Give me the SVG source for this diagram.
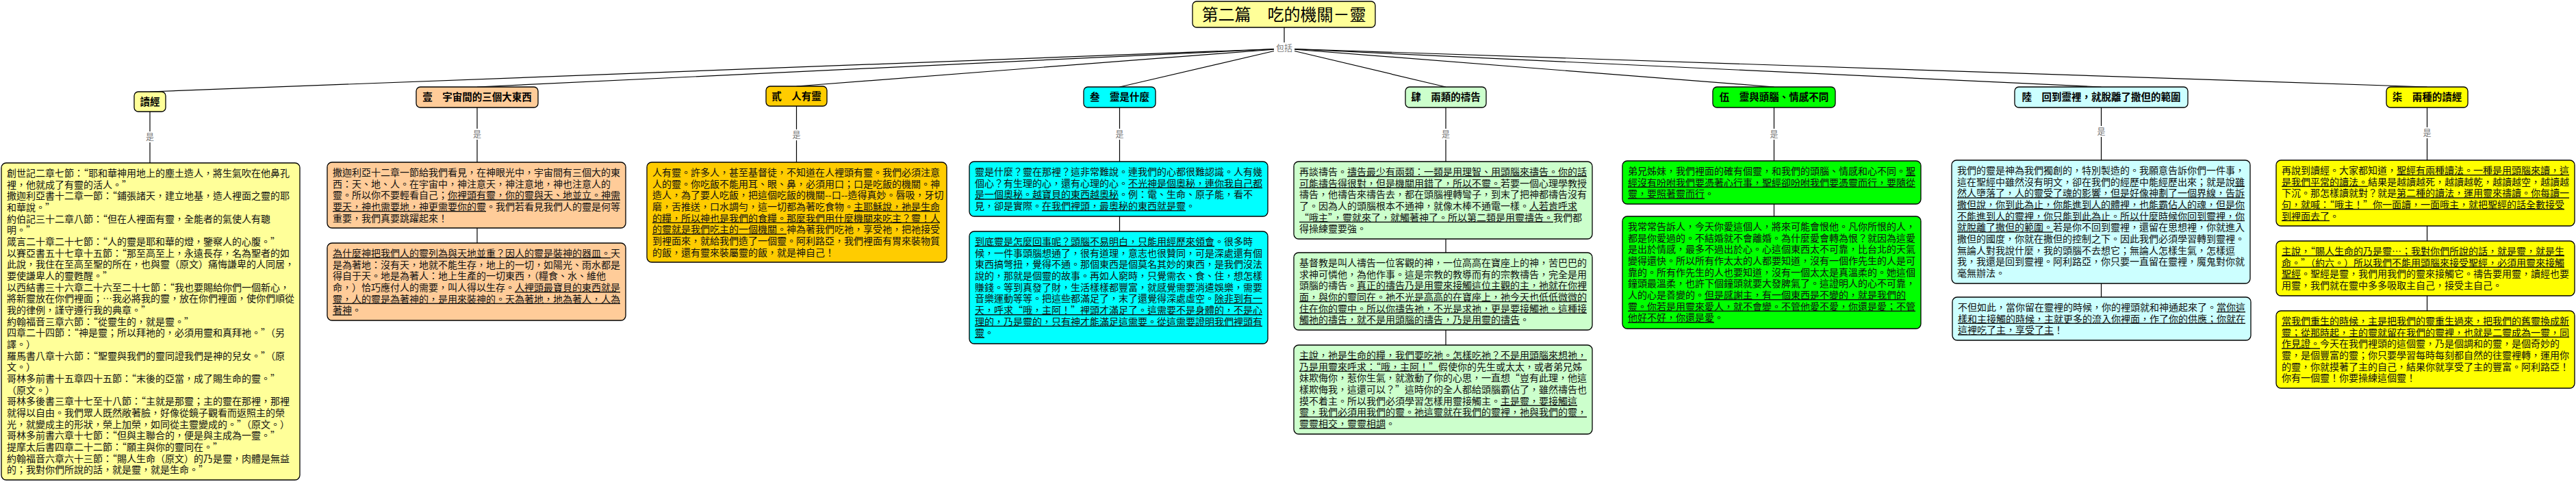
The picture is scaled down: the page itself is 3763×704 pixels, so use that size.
<svg xmlns="http://www.w3.org/2000/svg" width="3763" height="704" viewBox="0 0 3763 704">
<style>
.bg{fill:#ffffff}
.box{stroke:#000;stroke-width:1.3}
.c1{fill:#FFFF99}.c2{fill:#FFCC99}.c3{fill:#FFCC00}.c4{fill:#00FFFF}.c5{fill:#CCFFCC}.c6{fill:#00FF00}.c7{fill:#CCFFFF}.c8{fill:#FFFF00}
.nt{font-family:"Noto Sans CJK TC","Noto Sans CJK SC",sans-serif;font-size:14.5px;font-weight:bold;text-anchor:middle;fill:#000}
.tt{font-family:"Noto Sans CJK TC","Noto Sans CJK SC",sans-serif;font-size:24px;text-anchor:middle;fill:#000}
.t{font-family:"Noto Sans CJK TC","Noto Sans CJK SC",sans-serif;font-size:14px;fill:#111;font-feature-settings:"fwid"}
.nf{font-feature-settings:normal}
.u{text-decoration:underline}
.lbl{font-family:"Noto Sans CJK TC","Noto Sans CJK SC",sans-serif;font-size:12px;fill:#777;text-anchor:middle}
.conn line{stroke:#000;stroke-width:1.2}
.lb{fill:#fff}
</style>
<rect class="bg" x="0" y="0" width="3763" height="704"/>

<g id="connectors" class="conn">
  <line x1="1876" y1="40" x2="1876" y2="71"/>
  <line x1="1876" y1="71" x2="219" y2="134"/>
  <line x1="1876" y1="71" x2="697" y2="127"/>
  <line x1="1876" y1="71" x2="1163.5" y2="126"/>
  <line x1="1876" y1="71" x2="1635.5" y2="127"/>
  <line x1="1876" y1="71" x2="2112" y2="127"/>
  <line x1="1876" y1="71" x2="2591.5" y2="127"/>
  <line x1="1876" y1="71" x2="3069.5" y2="127"/>
  <line x1="1876" y1="71" x2="3545.5" y2="127"/>
  <line x1="219" y1="163" x2="219" y2="238"/>
  <line x1="697" y1="157" x2="697" y2="237"/>
  <line x1="697" y1="333" x2="697" y2="355"/>
  <line x1="1163.5" y1="155" x2="1163.5" y2="237"/>
  <line x1="1635.5" y1="157" x2="1635.5" y2="236"/>
  <line x1="1635.5" y1="316" x2="1635.5" y2="338"/>
  <line x1="2112" y1="157" x2="2112" y2="236"/>
  <line x1="2112" y1="349" x2="2112" y2="369"/>
  <line x1="2112" y1="482" x2="2112" y2="504"/>
  <line x1="2591.5" y1="157" x2="2591.5" y2="235"/>
  <line x1="2591.5" y1="298" x2="2591.5" y2="316"/>
  <line x1="3069.5" y1="157" x2="3069.5" y2="234"/>
  <line x1="3069.5" y1="414" x2="3069.5" y2="434"/>
  <line x1="3545.5" y1="157" x2="3545.5" y2="234"/>
  <line x1="3545.5" y1="330" x2="3545.5" y2="352"/>
  <line x1="3545.5" y1="432" x2="3545.5" y2="454"/>
  <rect class="lb" x="1861" y="62" width="30" height="17"/>
  <text class="lbl" x="1876" y="75">包括</text>
  <rect class="lb" x="212" y="192" width="14" height="16"/>
  <text class="lbl" x="219" y="205">是</text>
  <rect class="lb" x="690" y="188" width="14" height="16"/>
  <text class="lbl" x="697" y="201">是</text>
  <rect class="lb" x="1156.5" y="189" width="14" height="16"/>
  <text class="lbl" x="1163.5" y="202">是</text>
  <rect class="lb" x="1628.5" y="188" width="14" height="16"/>
  <text class="lbl" x="1635.5" y="201">是</text>
  <rect class="lb" x="2105" y="188" width="14" height="16"/>
  <text class="lbl" x="2112" y="201">是</text>
  <rect class="lb" x="2584.5" y="188" width="14" height="16"/>
  <text class="lbl" x="2591.5" y="201">是</text>
  <rect class="lb" x="3062.5" y="184" width="14" height="16"/>
  <text class="lbl" x="3069.5" y="197">是</text>
  <rect class="lb" x="3538.5" y="186" width="14" height="16"/>
  <text class="lbl" x="3545.5" y="199">是</text>
</g>

<g id="title">
  <rect class="box c1" x="1742" y="2" width="267" height="38" rx="6"/>
  <text class="tt" x="1875.5" y="29.5">第二篇　吃的機關－靈</text>
</g>

<g id="node-dujing">
  <rect class="box c1" x="196" y="134" width="46" height="29" rx="6"/>
  <text class="nt" x="219" y="153.5">讀經</text>
</g>
<g id="node-dujing-text">
  <rect class="box c1" x="2" y="238" width="436" height="463" rx="7"/>
  <text class="t" x="10" y="258">
    <tspan x="10" dy="0">創世記二章七節：“耶和華神用地上的塵土造人，將生氣吹在他鼻孔</tspan>
    <tspan x="10" dy="16.67">裡，他就成了有靈的活人。”</tspan>
    <tspan x="10" dy="16.67">撒迦利亞書十二章一節：“鋪張諸天，建立地基，造人裡面之靈的耶</tspan>
    <tspan x="10" dy="16.67">和華說。”</tspan>
    <tspan x="10" dy="16.67">約伯記三十二章八節：“但在人裡面有靈，全能者的氣使人有聰</tspan>
    <tspan x="10" dy="16.67">明。”</tspan>
    <tspan x="10" dy="16.67">箴言二十章二十七節：“人的靈是耶和華的燈，鑒察人的心腹。”</tspan>
    <tspan x="10" dy="16.67">以賽亞書五十七章十五節：“那至高至上，永遠長存，名為聖者的如</tspan>
    <tspan x="10" dy="16.67">此說，我住在至高至聖的所在，也與靈（原文）痛悔謙卑的人同居，</tspan>
    <tspan x="10" dy="16.67">要使謙卑人的靈甦醒。”</tspan>
    <tspan x="10" dy="16.67">以西結書三十六章二十六至二十七節：“我也要賜給你們一個新心，</tspan>
    <tspan x="10" dy="16.67">將新靈放在你們裡面；…我必將我的靈，放在你們裡面，使你們順從</tspan>
    <tspan x="10" dy="16.67">我的律例，謹守遵行我的典章。”</tspan>
    <tspan x="10" dy="16.67">約翰福音三章六節：“從靈生的，就是靈。”</tspan>
    <tspan x="10" dy="16.67">四章二十四節：“神是靈；所以拜祂的，必須用靈和真拜祂。”（另</tspan>
    <tspan x="10" dy="16.67">譯。）</tspan>
    <tspan x="10" dy="16.67">羅馬書八章十六節：“聖靈與我們的靈同證我們是神的兒女。”（原</tspan>
    <tspan x="10" dy="16.67">文。）</tspan>
    <tspan x="10" dy="16.67">哥林多前書十五章四十五節：“末後的亞當，成了賜生命的靈。”</tspan>
    <tspan x="10" dy="16.67">（原文。）</tspan>
    <tspan x="10" dy="16.67">哥林多後書三章十七至十八節：“主就是那靈；主的靈在那裡，那裡</tspan>
    <tspan x="10" dy="16.67">就得以自由。我們眾人既然敞著臉，好像從鏡子觀看而返照主的榮</tspan>
    <tspan x="10" dy="16.67">光，就變成主的形狀，榮上加榮，如同從主靈變成的。”（原文。）</tspan>
    <tspan x="10" dy="16.67">哥林多前書六章十七節：“但與主聯合的，便是與主成為一靈。”</tspan>
    <tspan x="10" dy="16.67">提摩太后書四章二十二節：“願主與你的靈同在。”</tspan>
    <tspan x="10" dy="16.67">約翰福音六章六十三節：“賜人生命（原文）的乃是靈，肉體是無益</tspan>
    <tspan x="10" dy="16.67">的；我對你們所說的話，就是靈，就是生命。”</tspan>
  </text>
</g>

<g id="node-1">
  <rect class="box c2" x="608" y="127" width="178" height="30" rx="6"/>
  <text class="nt" x="697" y="147">壹　宇宙間的三個大東西</text>
</g>
<g id="node-1-text-a">
  <rect class="box c2" x="478" y="237" width="436" height="96" rx="7"/>
  <text class="t" x="486" y="257">
    <tspan x="486" dy="0">撒迦利亞十二章一節給我們看見，在神眼光中，宇宙間有三個大的東</tspan>
    <tspan x="486" dy="16.67">西：天、地、人。在宇宙中，神注意天，神注意地，神也注意人的</tspan>
    <tspan x="486" dy="16.67">靈。所以你不要輕看自己；<tspan class="u">你裡頭有靈，你的靈與天、地並立。神需</tspan></tspan>
    <tspan x="486" dy="16.67"><tspan class="u">要天，神也需要地，神更需要你的靈</tspan>。我們若看見我們人的靈是何等</tspan>
    <tspan x="486" dy="16.67">重要，我們真要跳躍起來！</tspan>
  </text>
</g>
<g id="node-1-text-b">
  <rect class="box c2" x="478" y="355" width="436" height="113" rx="7"/>
  <text class="t" x="486" y="375">
    <tspan x="486" dy="0"><tspan class="u">為什麼神把我們人的靈列為與天地並重？因人的靈是裝神的器皿。</tspan>天</tspan>
    <tspan x="486" dy="16.67">是為著地：沒有天，地就不能生存，地上的一切，如陽光、雨水都是</tspan>
    <tspan x="486" dy="16.67">得自于天。地是為著人：地上生產的一切東西，（糧食、水、維他</tspan>
    <tspan x="486" dy="16.67">命，）恰巧應付人的需要，叫人得以生存。<tspan class="u">人裡頭最寶貝的東西就是</tspan></tspan>
    <tspan x="486" dy="16.67"><tspan class="u">靈，人的靈是為著神的，是用來裝神的。天為著地，地為著人，人為</tspan></tspan>
    <tspan x="486" dy="16.67"><tspan class="u">著神</tspan>。</tspan>
  </text>
</g>

<g id="node-2">
  <rect class="box c3" x="1119" y="126" width="89" height="29" rx="6"/>
  <text class="nt" x="1163.5" y="145.5">貳　人有靈</text>
</g>
<g id="node-2-text">
  <rect class="box c3" x="945" y="237" width="438" height="146" rx="7"/>
  <text class="t" x="953" y="257">
    <tspan x="953" dy="0">人有靈。許多人，甚至基督徒，不知道在人裡頭有靈。我們必須注意</tspan>
    <tspan x="953" dy="16.67">人的靈。你吃飯不能用耳、眼、鼻，必須用口；口是吃飯的機關。神</tspan>
    <tspan x="953" dy="16.67" class="nf">造人，為了要人吃飯，把這個吃飯的機關--口--造得真妙。唇吸，牙切</tspan>
    <tspan x="953" dy="16.67">磨，舌推送，口水調勻，這一切都為著吃食物。<tspan class="u">主耶穌說，祂是生命</tspan></tspan>
    <tspan x="953" dy="16.67"><tspan class="u">的糧，所以神也是我們的食糧。那麼我們用什麼機關來吃主？靈！人</tspan></tspan>
    <tspan x="953" dy="16.67"><tspan class="u">的靈就是我們吃主的一個機關。</tspan>神為著我們吃祂，享受祂，把祂接受</tspan>
    <tspan x="953" dy="16.67">到裡面來，就給我們造了一個靈。阿利路亞，我們裡面有胃來裝物質</tspan>
    <tspan x="953" dy="16.67">的飯，還有靈來裝屬靈的飯，就是神自己！</tspan>
  </text>
</g>

<g id="node-3">
  <rect class="box c4" x="1583" y="127" width="105" height="30" rx="6"/>
  <text class="nt" x="1635.5" y="147">叁　靈是什麼</text>
</g>
<g id="node-3-text-a">
  <rect class="box c4" x="1416" y="236" width="436" height="80" rx="7"/>
  <text class="t" x="1424" y="256">
    <tspan x="1424" dy="0">靈是什麼？靈在那裡？這非常難說。連我們的心都很難認識。人有幾</tspan>
    <tspan x="1424" dy="16.67">個心？有生理的心，還有心理的心。<tspan class="u">不光神是個奧秘，連你我自己都</tspan></tspan>
    <tspan x="1424" dy="16.67"><tspan class="u">是一個奧秘。越寶貝的東西越奧秘</tspan>。例：電、生命、原子能，看不</tspan>
    <tspan x="1424" dy="16.67">見，卻是實際。<tspan class="u">在我們裡頭，最奧秘的東西就是靈</tspan>。</tspan>
  </text>
</g>
<g id="node-3-text-b">
  <rect class="box c4" x="1416" y="338" width="436" height="164" rx="7"/>
  <text class="t" x="1424" y="358">
    <tspan x="1424" dy="0"><tspan class="u">到底靈是怎麼回事呢？頭腦不易明白，只能用經歷來領會</tspan>。很多時</tspan>
    <tspan x="1424" dy="16.67">候，一件事頭腦想通了，很有道理，意志也很贊同，可是深處還有個</tspan>
    <tspan x="1424" dy="16.67">東西搞彆扭，覺得不通。那個東西是個莫名其妙的東西，是我們沒法</tspan>
    <tspan x="1424" dy="16.67">說的，那就是個靈的故事。再如人窮時，只覺需衣、食、住，想怎樣</tspan>
    <tspan x="1424" dy="16.67">賺錢。等到真發了財，生活樣樣都豐富，就感覺需要消遣娛樂，需要</tspan>
    <tspan x="1424" dy="16.67">音樂運動等等。把這些都滿足了，末了還覺得深處虛空。<tspan class="u">除非到有一</tspan></tspan>
    <tspan x="1424" dy="16.67"><tspan class="u">天，呼求“哦，主阿！”裡頭才滿足了。這需要不是身體的，不是心</tspan></tspan>
    <tspan x="1424" dy="16.67"><tspan class="u">理的，乃是靈的，只有神才能滿足這需要。從這需要證明我們裡頭有</tspan></tspan>
    <tspan x="1424" dy="16.67"><tspan class="u">靈</tspan>。</tspan>
  </text>
</g>

<g id="node-4">
  <rect class="box c5" x="2053" y="127" width="118" height="30" rx="6"/>
  <text class="nt" x="2112" y="147">肆　兩類的禱告</text>
</g>
<g id="node-4-text-a">
  <rect class="box c5" x="1890" y="236" width="436" height="113" rx="7"/>
  <text class="t" x="1898" y="256">
    <tspan x="1898" dy="0">再談禱告。<tspan class="u">禱告最少有兩類：一類是用理智、用頭腦來禱告。你的話</tspan></tspan>
    <tspan x="1898" dy="16.67"><tspan class="u">可能禱告得很對，但是機關用錯了，所以不靈。</tspan>若要一個心理學教授</tspan>
    <tspan x="1898" dy="16.67">禱告，他禱告來禱告去，都在頭腦裡轉彎子，到末了把神都禱告沒有</tspan>
    <tspan x="1898" dy="16.67">了。因為人的頭腦根本不通神，就像木棒不通電一樣。<tspan class="u">人若肯呼求</tspan></tspan>
    <tspan x="1898" dy="16.67"><tspan class="u">“哦主”，靈就來了，就觸著神了。所以第二類是用靈禱告。</tspan>我們都</tspan>
    <tspan x="1898" dy="16.67">得操練靈要強。</tspan>
  </text>
</g>
<g id="node-4-text-b">
  <rect class="box c5" x="1890" y="369" width="436" height="113" rx="7"/>
  <text class="t" x="1898" y="389">
    <tspan x="1898" dy="0">基督教是叫人禱告一位客觀的神，一位高高在寶座上的神，苦巴巴的</tspan>
    <tspan x="1898" dy="16.67">求神可憐他，為他作事。這是宗教的教導而有的宗教禱告，完全是用</tspan>
    <tspan x="1898" dy="16.67">頭腦的禱告。<tspan class="u">真正的禱告乃是用靈來接觸這位主觀的主，祂就在你裡</tspan></tspan>
    <tspan x="1898" dy="16.67"><tspan class="u">面，與你的靈同在。祂不光是高高的在寶座上，祂今天也低低微微的</tspan></tspan>
    <tspan x="1898" dy="16.67"><tspan class="u">住在你的靈中。所以你禱告祂，不光是求祂，更是要接觸祂。這種接</tspan></tspan>
    <tspan x="1898" dy="16.67"><tspan class="u">觸祂的禱告，就不是用頭腦的禱告，乃是用靈的禱告</tspan>。</tspan>
  </text>
</g>
<g id="node-4-text-c">
  <rect class="box c5" x="1890" y="504" width="436" height="130" rx="7"/>
  <text class="t" x="1898" y="524">
    <tspan x="1898" dy="0"><tspan class="u">主說，祂是生命的糧，我們要吃祂。怎樣吃祂？不是用頭腦來想祂，</tspan></tspan>
    <tspan x="1898" dy="16.67"><tspan class="u">乃是用靈來呼求：“哦，主阿！”</tspan>假使你的先生或太太，或者弟兄姊</tspan>
    <tspan x="1898" dy="16.67">妹欺侮你，惹你生氣，就激動了你的心思，一直想“豈有此理，他這</tspan>
    <tspan x="1898" dy="16.67">樣欺侮我，這還可以？”這時你的全人都給頭腦霸佔了，雖然禱告也</tspan>
    <tspan x="1898" dy="16.67">摸不着主。所以我們必須學習怎樣用靈接觸主。<tspan class="u">主是靈，要接觸這</tspan></tspan>
    <tspan x="1898" dy="16.67"><tspan class="u">靈，我們必須用我們的靈。祂這靈就在我們的靈裡，祂與我們的靈，</tspan></tspan>
    <tspan x="1898" dy="16.67"><tspan class="u">靈靈相交，靈靈相調</tspan>。</tspan>
  </text>
</g>

<g id="node-5">
  <rect class="box c6" x="2502" y="127" width="179" height="30" rx="6"/>
  <text class="nt" x="2591.5" y="147">伍　靈與頭腦、情感不同</text>
</g>
<g id="node-5-text-a">
  <rect class="box c6" x="2370" y="235" width="436" height="63" rx="7"/>
  <text class="t" x="2378" y="255">
    <tspan x="2378" dy="0">弟兄姊妹，我們裡面的確有個靈，和我們的頭腦、情感和心不同。<tspan class="u">聖</tspan></tspan>
    <tspan x="2378" dy="16.67"><tspan class="u">經沒有吩咐我們要憑著心行事，聖經卻吩咐我們要憑靈而行，要隨從</tspan></tspan>
    <tspan x="2378" dy="16.67"><tspan class="u">靈，要照著靈而行</tspan>。</tspan>
  </text>
</g>
<g id="node-5-text-b">
  <rect class="box c6" x="2370" y="316" width="436" height="164" rx="7"/>
  <text class="t" x="2378" y="336">
    <tspan x="2378" dy="0">我常常告訴人，今天你愛這個人，將來可能會恨他。凡你所恨的人，</tspan>
    <tspan x="2378" dy="16.67">都是你愛過的。不結婚就不會離婚。為什麼愛會轉為恨？就因為這愛</tspan>
    <tspan x="2378" dy="16.67">是出於情感，最多不過出於心。心這個東西太不可靠，比台北的天氣</tspan>
    <tspan x="2378" dy="16.67">變得還快。所以所有作太太的人都要知道，沒有一個作先生的人是可</tspan>
    <tspan x="2378" dy="16.67">靠的。所有作先生的人也要知道，沒有一個太太是真溫柔的。她這個</tspan>
    <tspan x="2378" dy="16.67">鐘頭最溫柔，也許下個鐘頭就要大發脾氣了。這證明人的心不可靠，</tspan>
    <tspan x="2378" dy="16.67">人的心是善變的。<tspan class="u">但是感謝主，有一個東西是不變的，就是我們的</tspan></tspan>
    <tspan x="2378" dy="16.67"><tspan class="u">靈。你若是用靈來愛人，就不會變。不管他愛不愛，你還是愛；不管</tspan></tspan>
    <tspan x="2378" dy="16.67"><tspan class="u">他好不好，你還是愛</tspan>。</tspan>
  </text>
</g>

<g id="node-6">
  <rect class="box c7" x="2943" y="127" width="253" height="30" rx="6"/>
  <text class="nt" x="3069.5" y="147">陸　回到靈裡，就脫離了撒但的範圍</text>
</g>
<g id="node-6-text-a">
  <rect class="box c7" x="2851" y="234" width="436" height="180" rx="7"/>
  <text class="t" x="2859" y="254">
    <tspan x="2859" dy="0">我們的靈是神為我們獨創的，特別製造的。我願意告訴你們一件事，</tspan>
    <tspan x="2859" dy="16.67">這在聖經中雖然沒有明文，卻在我們的經歷中能經歷出來；就是說<tspan class="u">雖</tspan></tspan>
    <tspan x="2859" dy="16.67"><tspan class="u">然人墮落了，人的靈受了魂的影響，但是好像神劃了一個界線，告訴</tspan></tspan>
    <tspan x="2859" dy="16.67"><tspan class="u">撒但說，你到此為止，你能進到人的體裡，也能霸佔人的魂，但是你</tspan></tspan>
    <tspan x="2859" dy="16.67"><tspan class="u">不能進到人的靈裡，你只能到此為止。所以什麼時候你回到靈裡，你</tspan></tspan>
    <tspan x="2859" dy="16.67"><tspan class="u">就脫離了撒但的範圍。</tspan>若是你不回到靈裡，還留在思想裡，你就進入</tspan>
    <tspan x="2859" dy="16.67">撒但的國度，你就在撒但的控制之下。因此我們必須學習轉到靈裡。</tspan>
    <tspan x="2859" dy="16.67">無論人對我說什麼，我的頭腦不去想它；無論人怎樣生氣，怎樣逗</tspan>
    <tspan x="2859" dy="16.67">我，我還是回到靈裡。阿利路亞，你只要一直留在靈裡，魔鬼對你就</tspan>
    <tspan x="2859" dy="16.67">毫無辦法。</tspan>
  </text>
</g>
<g id="node-6-text-b">
  <rect class="box c7" x="2852" y="434" width="436" height="63" rx="7"/>
  <text class="t" x="2860" y="454">
    <tspan x="2860" dy="0">不但如此，當你留在靈裡的時候，你的裡頭就和神通起來了。<tspan class="u">當你這</tspan></tspan>
    <tspan x="2860" dy="16.67"><tspan class="u">樣和主接觸的時候，主就更多的流入你裡面，作了你的供應；你就在</tspan></tspan>
    <tspan x="2860" dy="16.67"><tspan class="u">這裡吃了主，享受了主</tspan>！</tspan>
  </text>
</g>

<g id="node-7">
  <rect class="box c8" x="3486" y="127" width="119" height="30" rx="6"/>
  <text class="nt" x="3545.5" y="147">柒　兩種的讀經</text>
</g>
<g id="node-7-text-a">
  <rect class="box c8" x="3325" y="234" width="436" height="96" rx="7"/>
  <text class="t" x="3333" y="254">
    <tspan x="3333" dy="0">再說到讀經。大家都知道，<tspan class="u">聖經有兩種讀法。一種是用頭腦來讀，這</tspan></tspan>
    <tspan x="3333" dy="16.67"><tspan class="u">是我們平常的讀法。</tspan>結果是越讀越死，越讀越乾，越讀越空，越讀越</tspan>
    <tspan x="3333" dy="16.67">下沉。那怎樣讀就對？就是<tspan class="u">第二種的讀法，運用靈來禱讀。你每讀一</tspan></tspan>
    <tspan x="3333" dy="16.67"><tspan class="u">句，就喊：“哦主！”你一面讀，一面哦主，就把聖經的話全數接受</tspan></tspan>
    <tspan x="3333" dy="16.67"><tspan class="u">到裡面去了</tspan>。</tspan>
  </text>
</g>
<g id="node-7-text-b">
  <rect class="box c8" x="3325" y="352" width="436" height="80" rx="7"/>
  <text class="t" x="3333" y="372">
    <tspan x="3333" dy="0"><tspan class="u">主說，“賜人生命的乃是靈…；我對你們所說的話，就是靈，就是生</tspan></tspan>
    <tspan x="3333" dy="16.67"><tspan class="u">命。”（約六。）所以我們不能用頭腦來接受聖經，必須用靈來接觸</tspan></tspan>
    <tspan x="3333" dy="16.67"><tspan class="u">聖經</tspan>。聖經是靈，我們用我們的靈來接觸它。禱告要用靈，讀經也要</tspan>
    <tspan x="3333" dy="16.67">用靈，我們就在靈中多多吸取主自己，接受主自己。</tspan>
  </text>
</g>
<g id="node-7-text-c">
  <rect class="box c8" x="3325" y="454" width="436" height="113" rx="7"/>
  <text class="t" x="3333" y="474">
    <tspan x="3333" dy="0"><tspan class="u">當我們重生的時候，主是把我們的靈重生過來，把我們的舊靈換成新</tspan></tspan>
    <tspan x="3333" dy="16.67"><tspan class="u">靈；從那時起，主的靈就留在我們的靈裡，也就是二靈成為一靈，同</tspan></tspan>
    <tspan x="3333" dy="16.67"><tspan class="u">作見證。</tspan>今天在我們裡頭的這個靈，乃是個調和的靈，是個奇妙的</tspan>
    <tspan x="3333" dy="16.67">靈，是個豐富的靈；你只要學習每時每刻都自然的往靈裡轉，運用你</tspan>
    <tspan x="3333" dy="16.67">的靈，你就摸著了主的自己，結果你就享受了主的豐富。阿利路亞！</tspan>
    <tspan x="3333" dy="16.67">你有一個靈！你要操練這個靈！</tspan>
  </text>
</g>
</svg>
